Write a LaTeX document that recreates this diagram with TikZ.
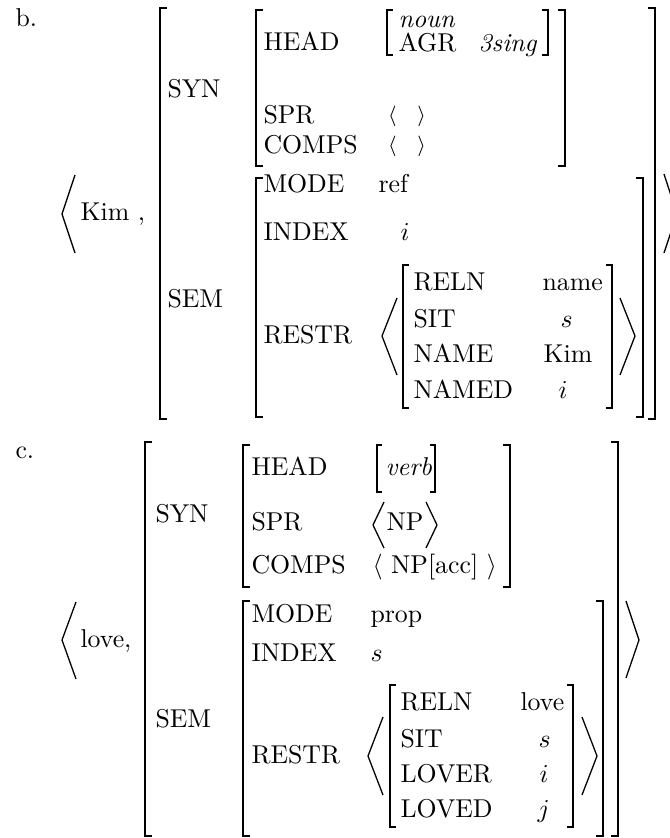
\documentclass[tikz,border=0pt]{standalone}
\usepackage{tikz}

\begin{document}
\begin{tikzpicture}[x=0.3876pt,y=-0.3876pt,
  brk/.style={line width=0.6pt},
  ang/.style={line width=0.5pt},
  lbl/.style={anchor=base west,inner sep=0pt},
  tiny list/.style={inner sep=0pt,font=\fontsize{8}{9}\selectfont}]

  \useasboundingbox (0,0) rectangle (670,838);
  \clip (0,0) rectangle (670,838);

  % ---- b. ----
  \node[lbl] (blab) at (15,26) {b.};
  \node[lbl] (bkim) at (80,220) {Kim ,};
  \node[lbl] (bsyn) at (167,97) {SYN};
  \node[lbl] (bsem) at (167,307) {SEM};
  \node[lbl] (bhead) at (263,50) {HEAD};
  \node[lbl] (bnoun) at (398,27) {\textit{noun}};
  \node[lbl] (bagr) at (398,51) {AGR};
  \node[lbl] (bsing) at (478,51) {\textit{3sing}};
  \node[lbl] (bspr) at (263,123) {SPR};
  \node[tiny list] (bsprv) at (407,116.5) {$\langle\quad\rangle$};
  \node[lbl] (bcomps) at (263,153) {COMPS};
  \node[tiny list] (bcompsv) at (407,146.5) {$\langle\quad\rangle$};
  \node[lbl] (bmode) at (263,192) {MODE};
  \node[lbl] (bref) at (378,192) {ref};
  \node[lbl] (bindex) at (263,240) {INDEX};
  \node[lbl] (bi) at (400,240) {$i$};
  \node[lbl] (brestr) at (263,343) {RESTR};
  \node[lbl] (breln) at (413,290) {RELN};
  \node[lbl] (bname) at (542,290) {name};
  \node[lbl] (bsit) at (413,327) {SIT};
  \node[lbl] (bs) at (560,327) {$s$};
  \node[lbl] (bnamek) at (413,362) {NAME};
  \node[lbl] (bkimv) at (543,362) {Kim};
  \node[lbl] (bnamed) at (413,398) {NAMED};
  \node[lbl] (bnamedi) at (558,398) {$i$};

  % brackets of b.
  \draw[brk] (167,8) -- (160,8) -- (160,419) -- (167,419);
  \draw[brk] (648,8) -- (655,8) -- (655,419) -- (648,419);
  \draw[brk] (263,10) -- (256,10) -- (256,166) -- (263,166);
  \draw[brk] (558,10) -- (565,10) -- (565,166) -- (558,166);
  \draw[brk] (393,10) -- (387,10) -- (387,55) -- (393,55);
  \draw[brk] (542,10) -- (548,10) -- (548,55) -- (542,55);
  \draw[brk] (263,178) -- (256,178) -- (256,417) -- (263,417);
  \draw[brk] (636,178) -- (643,178) -- (643,417) -- (636,417);
  \draw[brk] (409,265) -- (403,265) -- (403,408) -- (409,408);
  \draw[brk] (606,265) -- (612,265) -- (612,408) -- (606,408);
  \draw[ang] (75,175) -- (62,214) -- (75,253);
  \draw[ang] (664,174) -- (677,214) -- (664,253);
  \draw[ang] (397,298) -- (382,336) -- (397,375);
  \draw[ang] (620,298) -- (635,336) -- (620,375);

  % ---- c. ----
  \node[lbl] (clab) at (15,458) {c.};
  \node[lbl] (clove) at (80,647) {love,};
  \node[lbl] (csyn) at (155,522) {SYN};
  \node[lbl] (csem) at (155,727) {SEM};
  \node[lbl] (chead) at (251,475) {HEAD};
  \node[lbl] (cverb) at (385,475) {\textit{verb}};
  \node[lbl] (cspr) at (251,530) {SPR};
  \node[lbl] (cnp) at (386,530) {NP};
  \node[lbl] (ccomps) at (251,573) {COMPS};
  \node[lbl] (ccompsv) at (372,573) {$\langle$ NP[acc] $\rangle$};
  \node[lbl] (cmode) at (251,622) {MODE};
  \node[lbl] (cprop) at (370,622) {prop};
  \node[lbl] (cindex) at (251,661) {INDEX};
  \node[lbl] (cs) at (370,661) {$s$};
  \node[lbl] (crestr) at (251,763) {RESTR};
  \node[lbl] (creln) at (400,710) {RELN};
  \node[lbl] (clovev) at (520,710) {love};
  \node[lbl] (csit) at (400,747) {SIT};
  \node[lbl] (csv) at (538,747) {$s$};
  \node[lbl] (clover) at (400,782) {LOVER};
  \node[lbl] (cloveri) at (539,782) {$i$};
  \node[lbl] (cloved) at (400,817) {LOVED};
  \node[lbl] (clovedj) at (537,817) {$j$};

  % brackets of c.
  \draw[brk] (152,442) -- (145,442) -- (145,836) -- (152,836);
  \draw[brk] (611,442) -- (618,442) -- (618,836) -- (611,836);
  \draw[brk] (250,445) -- (243,445) -- (243,587) -- (250,587);
  \draw[brk] (503,445) -- (510,445) -- (510,587) -- (503,587);
  \draw[brk] (382,445) -- (377,445) -- (377,492) -- (382,492);
  \draw[brk] (430,445) -- (435,445) -- (435,492) -- (430,492);
  \draw[brk] (250,601) -- (243,601) -- (243,836) -- (250,836);
  \draw[brk] (596,601) -- (603,601) -- (603,836) -- (596,836);
  \draw[brk] (396,685) -- (390,685) -- (390,827) -- (396,827);
  \draw[brk] (567,685) -- (573,685) -- (573,827) -- (567,827);
  \draw[ang] (76,602) -- (62,640) -- (76,679);
  \draw[ang] (626,601) -- (639,640) -- (626,678);
  \draw[ang] (384,502) -- (373,525) -- (384,548);
  \draw[ang] (426,502) -- (437,525) -- (426,548);
  \draw[ang] (383,717) -- (368,756) -- (383,795);
  \draw[ang] (582,717) -- (597,756) -- (582,795);

\end{tikzpicture}
\end{document}
